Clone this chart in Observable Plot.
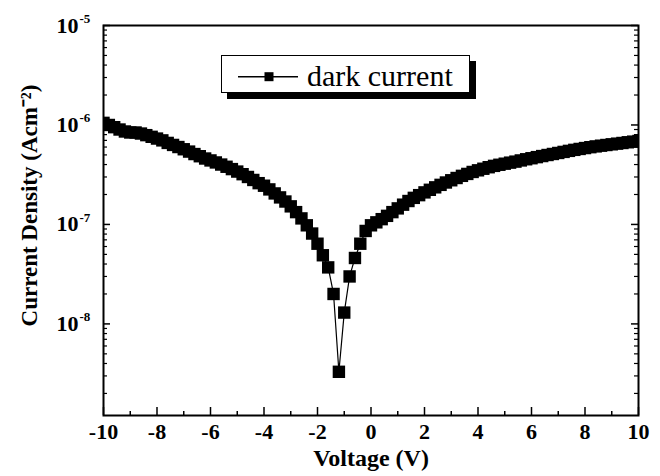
<!DOCTYPE html>
<html>
<head>
<meta charset="utf-8">
<script src="https://cdn.jsdelivr.net/npm/d3@7"></script>
<script src="https://cdn.jsdelivr.net/npm/@observablehq/plot@0.6"></script>
<style>
  body { margin: 0; background: #fff; }
  #wrap { position: relative; width: 660px; height: 476px; background: #fff; }
  #legend { position: absolute; left: 221px; top: 55px; width: 249px; height: 38px; box-sizing: border-box;
            border: 1.5px solid #000; background: #fff; box-shadow: 6px 6px 0 #000; }
  #legend svg { position: absolute; left: -1.5px; top: -1.5px; }
</style>
</head>
<body>
<div id="wrap">
  <div id="legend">
    <svg width="249" height="38">
      <line x1="17" y1="21.7" x2="77" y2="21.7" stroke="#000" stroke-width="1.6"></line>
      <rect x="43.5" y="17.2" width="9" height="9" fill="#000"></rect>
      <text x="86" y="30.5" font-family="'Liberation Serif', serif" font-size="30" fill="#000">dark current</text>
    </svg>
  </div>
</div>
<script>
// Voltage (V)
const voltage = [
  -10.0, -9.8, -9.6, -9.4, -9.2, -9.0, -8.8, -8.6, -8.4, -8.2,
  -8.0, -7.8, -7.6, -7.4, -7.2, -7.0, -6.8, -6.6, -6.4, -6.2,
  -6.0, -5.8, -5.6, -5.4, -5.2, -5.0, -4.8, -4.6, -4.4, -4.2,
  -4.0, -3.8, -3.6, -3.4, -3.2, -3.0, -2.8, -2.6, -2.4, -2.2,
  -2.0, -1.8, -1.6, -1.4, -1.2, -1.0, -0.8, -0.6, -0.4, -0.2,
  0.0, 0.2, 0.4, 0.6, 0.8, 1.0, 1.2, 1.4, 1.6, 1.8,
  2.0, 2.2, 2.4, 2.6, 2.8, 3.0, 3.2, 3.4, 3.6, 3.8,
  4.0, 4.2, 4.4, 4.6, 4.8, 5.0, 5.2, 5.4, 5.6, 5.8,
  6.0, 6.2, 6.4, 6.6, 6.8, 7.0, 7.2, 7.4, 7.6, 7.8,
  8.0, 8.2, 8.4, 8.6, 8.8, 9.0, 9.2, 9.4, 9.6, 9.8,
  10.0
];
// Dark current density (A cm^-2)
const darkCurrent = [
  1.05e-6, 1.00e-6, 9.5e-7, 9.0e-7, 8.6e-7, 8.4e-7, 8.4e-7, 8.2e-7, 7.9e-7, 7.6e-7,
  7.3e-7, 7.0e-7, 6.6e-7, 6.3e-7, 6.0e-7, 5.7e-7, 5.4e-7, 5.1e-7, 4.85e-7, 4.6e-7,
  4.4e-7, 4.2e-7, 4.0e-7, 3.8e-7, 3.6e-7, 3.4e-7, 3.2e-7, 3.0e-7, 2.8e-7, 2.6e-7,
  2.45e-7, 2.25e-7, 2.05e-7, 1.87e-7, 1.70e-7, 1.52e-7, 1.33e-7, 1.15e-7, 9.8e-8, 8.1e-8,
  6.4e-8, 4.9e-8, 3.7e-8, 2.0e-8, 3.3e-9, 1.3e-8, 3.0e-8, 4.6e-8, 6.4e-8, 8.6e-8,
  9.8e-8, 1.05e-7, 1.13e-7, 1.22e-7, 1.33e-7, 1.45e-7, 1.58e-7, 1.72e-7, 1.85e-7, 1.97e-7,
  2.10e-7, 2.23e-7, 2.36e-7, 2.50e-7, 2.64e-7, 2.78e-7, 2.93e-7, 3.08e-7, 3.22e-7, 3.37e-7,
  3.50e-7, 3.63e-7, 3.76e-7, 3.88e-7, 3.98e-7, 4.08e-7, 4.18e-7, 4.28e-7, 4.40e-7, 4.52e-7,
  4.63e-7, 4.75e-7, 4.87e-7, 4.99e-7, 5.11e-7, 5.23e-7, 5.36e-7, 5.49e-7, 5.62e-7, 5.74e-7,
  5.86e-7, 5.98e-7, 6.09e-7, 6.19e-7, 6.29e-7, 6.39e-7, 6.49e-7, 6.59e-7, 6.70e-7, 6.80e-7,
  6.90e-7
];
const xMajorTicks = [-10, -8, -6, -4, -2, 0, 2, 4, 6, 8, 10];
const xTickLabels = ["-10", "-8", "-6", "-4", "-2", "0", "2", "4", "6", "8", "10"];
const xMinorTicks = [-9, -7, -5, -3, -1, 1, 3, 5, 7, 9];
const yMajorTicks = [1e-8, 1e-7, 1e-6, 1e-5];
const yTickBase = "10";
const yTickExponents = ["-8", "-7", "-6", "-5"];
const yDecades = [1e-9, 1e-8, 1e-7, 1e-6];
const yMinorMultipliers = [2, 3, 4, 5, 6, 7, 8, 9];
const xTitle = "Voltage (V)";
const yTitle = "Current Density (Acm\u207B\u00B2)";

const data = voltage.map((v, i) => ({v, j: darkCurrent[i]}));
const yMinorTicks = yDecades.flatMap(d => yMinorMultipliers.map(m => +(m * d).toPrecision(3)));

const W = 660, H = 476, mL = 103, mR = 22, mT = 25, mB = 61;
const plotW = W - mL - mR, plotH = H - mT - mB;

const chart = Plot.plot({
  width: W, height: H,
  marginLeft: mL, marginRight: mR, marginTop: mT, marginBottom: mB,
  style: {fontFamily: "'Liberation Serif', serif", fontWeight: "bold", color: "#000", background: "#fff", overflow: "visible"},
  x: {domain: [-10, 10]},
  y: {type: "log", domain: [1.2e-9, 1e-5]},
  marks: [
    Plot.line(data, {x: "v", y: "j", stroke: "#000", strokeWidth: 1.2}),
    Plot.dot(data, {x: "v", y: "j", symbol: "square", r: 7, fill: "#000", stroke: "none", clip: true}),
    Plot.ruleX(xMajorTicks, {x: d => d, insetTop: plotH - 8, stroke: "#000", strokeWidth: 1.5}),
    Plot.ruleX(xMinorTicks, {x: d => d, insetTop: plotH - 4, stroke: "#000", strokeWidth: 1.5}),
    Plot.ruleY(yMajorTicks, {y: d => d, insetRight: plotW - 7, stroke: "#000", strokeWidth: 1.5}),
    Plot.ruleY(yMajorTicks, {y: d => d, insetLeft: plotW - 7, stroke: "#000", strokeWidth: 1.5}),
    Plot.ruleY(yMinorTicks, {y: d => d, insetRight: plotW - 4, stroke: "#000", strokeWidth: 1.2}),
    Plot.ruleY(yMinorTicks, {y: d => d, insetLeft: plotW - 4, stroke: "#000", strokeWidth: 1.2}),
    Plot.frame({stroke: "#000", strokeWidth: 2}),
    Plot.axisX(xMajorTicks, {tickSize: 0, tickPadding: 8, fontSize: 22, label: null,
      tickFormat: d => xTickLabels[xMajorTicks.indexOf(d)]}),
    Plot.axisY(yMajorTicks, {tickSize: 0, tickPadding: 25, fontSize: 22, label: null,
      tickFormat: () => yTickBase}),
    Plot.text(yMajorTicks, {y: d => d, frameAnchor: "left", text: (d, i) => yTickExponents[i],
      textAnchor: "start", lineAnchor: "middle", dx: -24, dy: -7, fontSize: 13, fill: "#000"}),
    Plot.text([xTitle], {frameAnchor: "bottom", textAnchor: "middle", lineAnchor: "middle", dy: 43, fontSize: 24, fill: "#000"}),
    Plot.text([yTitle], {frameAnchor: "left", textAnchor: "middle", lineAnchor: "middle", rotate: -90, dx: -74, dy: -15, fontSize: 23, fill: "#000"})
  ]
});
document.getElementById("wrap").prepend(chart);
</script>
</body>
</html>
